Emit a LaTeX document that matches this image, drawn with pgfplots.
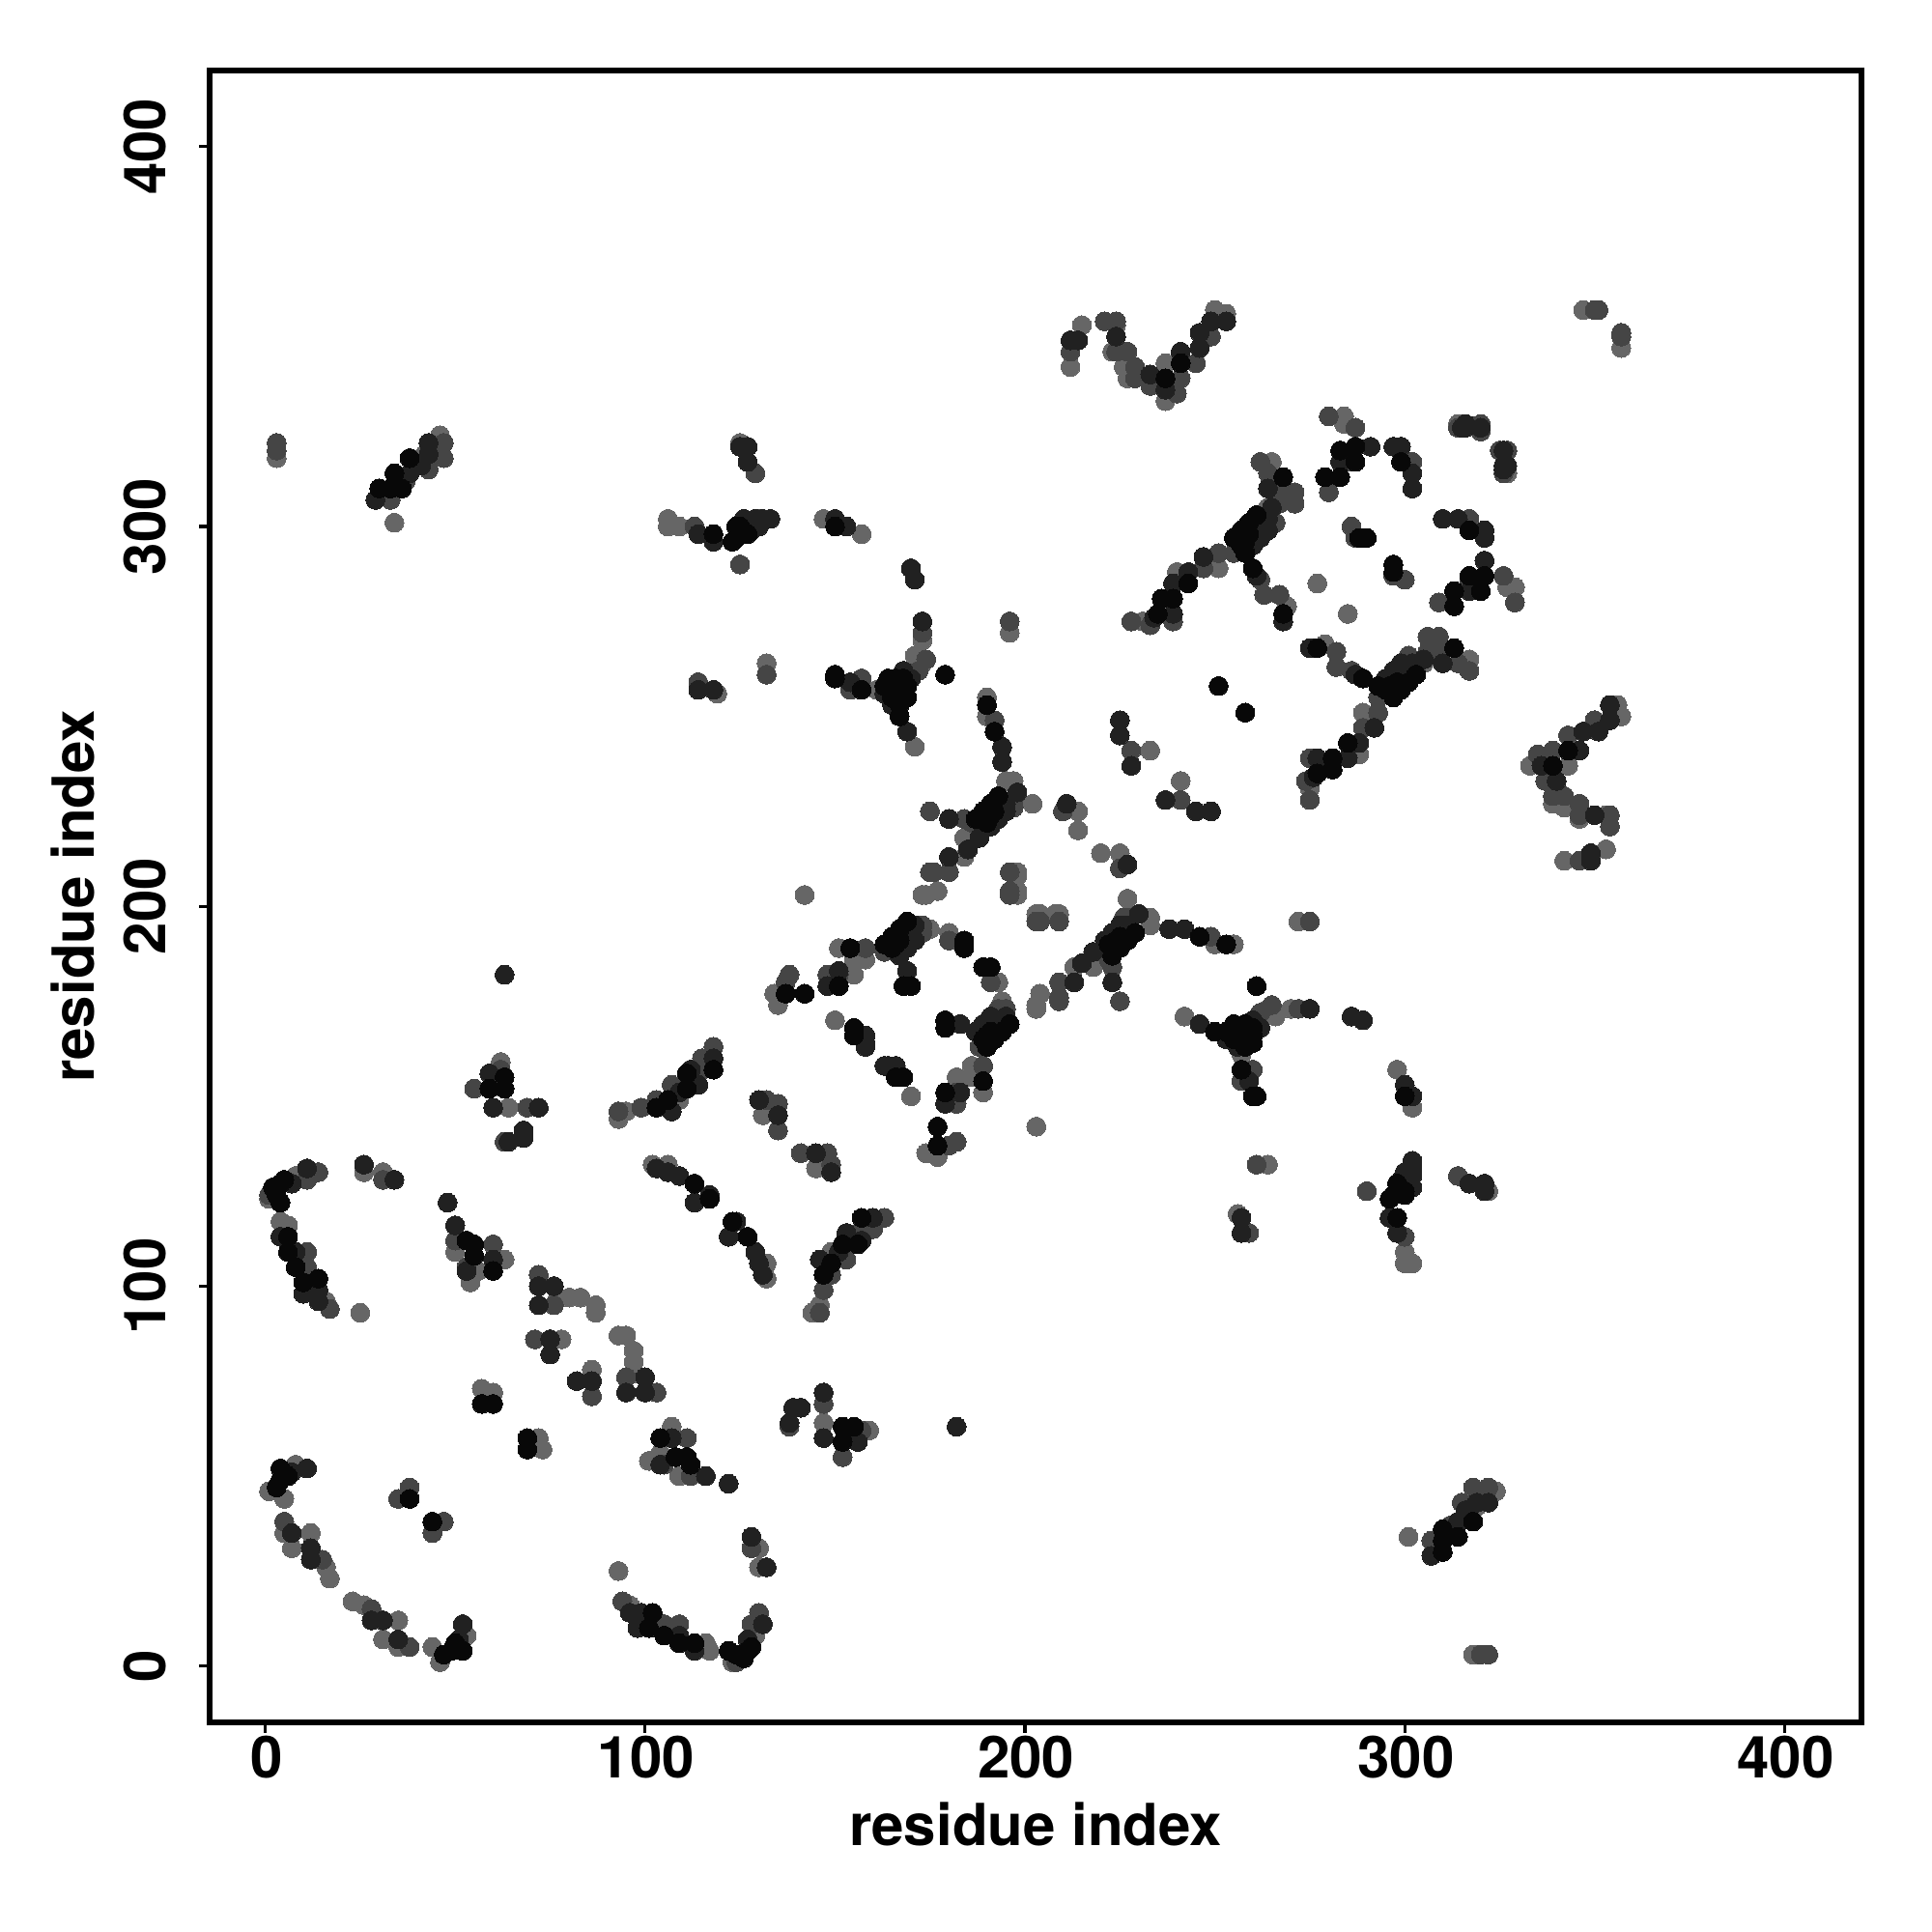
\documentclass[border=0pt]{standalone}
\usepackage{fontspec}
\setmainfont{TeX Gyre Heros}
\usepackage{pgfplots}
\usepackage{pgfplotstable}
\pgfplotsset{compat=1.18}
\definecolor{cL}{gray}{0.40}
\definecolor{cM}{gray}{0.27}
\definecolor{cD}{gray}{0.13}
\definecolor{cB}{gray}{0.03}
\pgfplotstableread[row sep=\\,header=false]{
3 318\\46 324\\42 319\\125 322\\106 302\\106 300\\109 300\\34 301\\119 256\\132 264\\147 302\\157 298\\171 266\\161 257\\171 242\\173 270\\190 255\\190 250\\195 233\\197 233\\202 227\\184 218\\184 213\\177 204\\174 203\\173 203\\198 209\\198 208\\198 204\\198 203\\214 225\\214 220\\233 241\\151 189\\158 186\\155 186\\155 182\\134 177\\135 174\\175 194\\180 193\\150 170\\109 149\\95 146\\93 144\\131 145\\142 203\\159 62\\147 64\\1 123\\4 117\\6 116\\16 96\\25 93\\26 130\\31 130\\8 129\\50 109\\56 104\\54 101\\63 107\\77 97\\80 97\\83 97\\87 95\\87 93\\78 86\\57 73\\60 72\\1 46\\5 44\\8 53\\5 35\\12 35\\7 31\\16 26\\17 23\\102 132\\106 132\\224 353\\223 346\\226 342\\227 339\\237 333\\237 343\\253 356\\250 357\\212 342\\215 353\\265 317\\264 305\\251 289\\240 288\\231 275\\269 279\\284 329\\284 327\\302 310\\327 314\\277 285\\347 357\\196 272\\172 265\\173 264\\
}\tbL
\pgfplotstableread[row sep=\\,header=false]{
3 322\\3 320\\47 322\\47 318\\43 315\\37 312\\33 307\\113 300\\129 314\\130 302\\125 290\\114 259\\132 261\\174 265\\154 257\\157 260\\172 262\\173 272\\192 249\\197 228\\175 225\\184 223\\186 222\\176 209\\180 209\\175 209\\196 209\\196 204\\196 203\\210 225\\228 241\\148 182\\151 182\\138 182\\137 180\\158 189\\173 195\\163 188\\180 191\\118 163\\115 160\\114 156\\107 153\\103 149\\99 147\\93 146\\132 149\\135 148\\135 141\\147 69\\138 63\\157 62\\152 55\\1 124\\14 130\\11 128\\11 109\\11 105\\17 94\\31 128\\50 112\\53 105\\60 111\\72 103\\76 95\\71 86\\38 47\\35 44\\5 38\\15 28\\196 275\\227 346\\229 342\\229 339\\233 337\\240 335\\241 339\\245 343\\249 350\\212 346\\221 354\\224 354\\224 346\\262 317\\264 314\\268 310\\271 309\\267 306\\271 306\\255 293\\251 293\\247 289\\239 275\\233 274\\228 275\\262 286\\263 282\\267 282\\280 329\\287 326\\280 309\\286 317\\302 317\\314 326\\320 325\\327 320\\286 300\\287 297\\350 357\\351 357\\173 193\\197 226\\266 301\\
}\tbM
\pgfplotstableread[row sep=\\,header=false]{
43 322\\43 319\\41 316\\38 314\\29 307\\127 321\\127 317\\125 321\\114 298\\118 296\\126 300\\129 302\\133 302\\128 301\\114 257\\118 257\\150 302\\153 300\\170 289\\171 286\\154 259\\163 256\\168 262\\170 260\\165 253\\169 246\\194 242\\194 238\\194 226\\195 227\\198 230\\180 223\\188 218\\185 215\\180 213\\211 227\\225 249\\225 245\\228 237\\151 183\\148 179\\168 192\\169 193\\170 194\\171 195\\158 166\\158 163\\158 164\\169 183\\130 149\\135 145\\107 146\\114 153\\118 160\\147 72\\139 68\\141 68\\138 64\\147 60\\156 59\\182 63\\11 131\\7 127\\10 98\\14 99\\14 96\\4 113\\8 109\\26 132\\34 128\\48 122\\50 116\\60 107\\72 100\\76 100\\72 95\\75 86\\75 82\\53 104\\11 52\\7 51\\7 35\\12 31\\12 28\\103 131\\106 130\\109 129\\113 122\\117 124\\224 350\\233 340\\237 336\\241 346\\246 347\\246 351\\249 354\\253 354\\214 349\\212 349\\264 310\\265 305\\260 299\\262 300\\264 302\\263 301\\247 292\\243 288\\239 285\\239 277\\234 276\\268 275\\261 287\\283 317\\291 321\\297 321\\299 321\\302 314\\302 310\\316 326\\320 326\\327 316\\173 275\\315 326\\130 300\\131 302\\193 225\\189 221\\167 187\\169 189\\171 191\\191 221\\193 223\\195 225\\260 295\\262 297\\264 299\\128 299\\126 302\\112 157\\109 151\\
}\tbD
\pgfplotstableread[row sep=\\,header=false]{
38 318\\34 314\\34 311\\30 310\\36 310\\33 310\\118 298\\123 296\\125 298\\127 298\\124 297\\125 300\\124 300\\150 300\\179 261\\150 261\\150 260\\157 257\\166 260\\166 256\\167 258\\167 253\\167 250\\165 255\\169 258\\168 260\\163 258\\164 260\\169 255\\190 253\\192 246\\190 222\\191 224\\192 225\\187 223\\189 225\\191 227\\193 229\\154 189\\151 179\\137 177\\142 177\\165 189\\166 190\\167 191\\163 190\\165 192\\167 194\\169 196\\184 191\\184 189\\168 179\\170 179\\155 168\\155 166\\118 157\\111 156\\111 152\\106 149\\103 147\\152 63\\155 63\\152 59\\5 128\\4 127\\3 124\\4 122\\2 126\\6 113\\6 109\\8 105\\10 101\\14 102\\53 112\\55 111\\55 108\\60 104\\57 69\\60 69\\6 50\\4 49\\3 47\\4 52\\38 44\\113 127\\117 123\\241 343\\237 339\\268 313\\258 296\\259 298\\257 295\\258 293\\255 297\\257 299\\259 301\\261 303\\260 289\\243 285\\239 281\\236 281\\235 277\\268 277\\283 320\\287 321\\287 317\\279 313\\283 313\\299 317\\290 297\\288 297\\251 258\\
}\tbB
\pgfplotsset{
  dotL/.style={only marks, mark=*, mark size=2.45pt, line width=0pt, mark options={draw=cL, fill=cL, line width=0pt}},
  dotM/.style={only marks, mark=*, mark size=2.45pt, line width=0pt, mark options={draw=cM, fill=cM, line width=0pt}},
  dotD/.style={only marks, mark=*, mark size=2.45pt, line width=0pt, mark options={draw=cD, fill=cD, line width=0pt}},
  dotB/.style={only marks, mark=*, mark size=2.45pt, line width=0pt, mark options={draw=cB, fill=cB, line width=0pt}},
}
\begin{document}
\begin{tikzpicture}
\path[use as bounding box] (-54.2pt,-54.2pt) rectangle (445.8pt,445.8pt);
\begin{axis}[
  scale only axis, width=427.6pt, height=427.6pt,
  xmin=-14.7, xmax=420.3, ymin=-14.9, ymax=420.1,
  xtick={0,100,200,300,400}, ytick={0,100,200,300,400},
  tick align=outside, tick pos=left, major tick length=2.6pt,
  every tick/.style={black, line width=0.8pt},
  axis line style={black, line width=1.4pt},
  /pgf/number format/assume math mode=true,
  tick label style={font=\bfseries\fontsize{15}{15}\selectfont},
  xticklabel style={yshift=2.6pt, xshift=0.3pt},
  yticklabel style={rotate=90, anchor=south, yshift=5pt},
  label style={font=\bfseries\fontsize{15}{15}\selectfont},
  xlabel={residue index}, ylabel={residue index},
  xlabel style={at={(axis description cs:0.5,0)}, anchor=north, yshift=-17.2pt},
  ylabel style={at={(axis description cs:0,0.5)}, anchor=south, yshift=26.2pt},
  clip=false,
]
\addplot[dotL] table[x index=0,y index=1]{\tbL};
\addplot[dotL] table[x index=1,y index=0]{\tbL};
\addplot[dotM] table[x index=0,y index=1]{\tbM};
\addplot[dotM] table[x index=1,y index=0]{\tbM};
\addplot[dotD] table[x index=0,y index=1]{\tbD};
\addplot[dotD] table[x index=1,y index=0]{\tbD};
\addplot[dotB] table[x index=0,y index=1]{\tbB};
\addplot[dotB] table[x index=1,y index=0]{\tbB};
\end{axis}
\end{tikzpicture}
\end{document}
